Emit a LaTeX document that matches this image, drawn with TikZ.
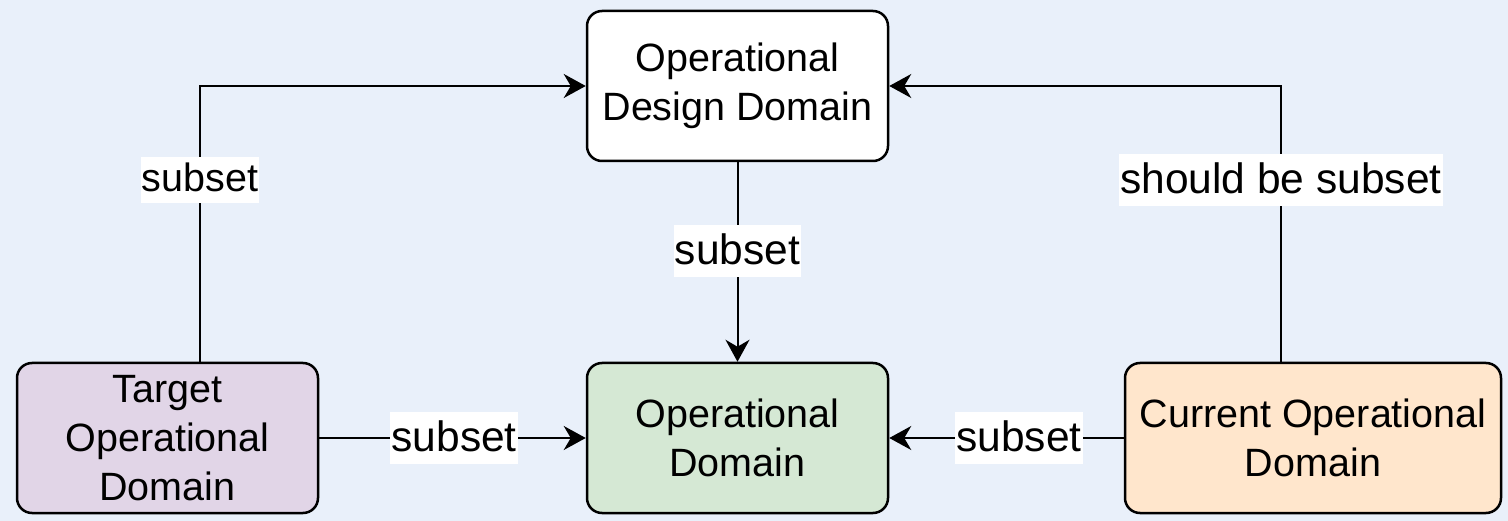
\documentclass[tikz,border=0pt]{standalone}
\usepackage{fontspec}
\setmainfont{Liberation Sans}
\usetikzlibrary{arrows.meta,calc}

\definecolor{canvas}{HTML}{E9F0FA}
\definecolor{purplefill}{HTML}{E1D5E7}
\definecolor{greenfill}{HTML}{D5E8D4}
\definecolor{orangefill}{HTML}{FFE6CC}

\tikzset{
  domainbox/.style={draw=black, line width=2.5pt, rounded corners=15pt,
    minimum height=150pt, inner sep=0pt, align=center,
    font=\fontsize{39.5}{49}\selectfont},
  link/.style={line width=2pt, draw=black,
    -{Stealth[length=22pt, width=24pt, inset=7pt]}},
  tag/.style={fill=white, inner xsep=1pt, inner ysep=0pt,
    text height=35pt, text depth=11pt,
    font=\fontsize{39.5}{48}\selectfont},
  widetag/.style={tag, text height=39pt, text depth=13pt,
    font=\fontsize{42.5}{48}\selectfont},
}

\begin{document}
\begin{tikzpicture}[x=1pt, y=-1pt]
  \fill[canvas] (0,0) rectangle (1508,521);
  \useasboundingbox (0,0) rectangle (1508,521);

  % domain boxes
  \node[domainbox, fill=white, minimum width=301pt] (odd) at (737.5,86)
    {Operational\\Design Domain};
  \node[domainbox, fill=greenfill, minimum width=301pt] (od) at (737.5,438)
    {Operational\\Domain};
  \node[domainbox, fill=purplefill, minimum width=301pt] (tod) at (167.5,438)
    {Target\\Operational\\Domain};
  \node[domainbox, fill=orangefill, minimum width=376pt] (cod) at (1313,438)
    {Current Operational\\Domain};

  % columns where the side connectors leave the lower boxes
  \coordinate (tcol) at (200,0);
  \coordinate (ccol) at (1281,0);

  % relations
  \draw[link] (tod.north -| tcol) |- node[tag, pos=0.33] (l1) {subset} (odd.west);
  \draw[link] (cod.north -| ccol) |- node[widetag, pos=0.329] (l2)
    {should be subset} (odd.east);
  \draw[link] (odd.south) -- node[widetag, pos=0.446] (l3) {subset} (od.north);
  \draw[link] (tod.east) -- node[widetag, pos=0.506] (l4) {subset} (od.west);
  \draw[link] (cod.west) -- node[widetag, pos=0.447] (l5) {subset} (od.east);
\end{tikzpicture}
\end{document}
